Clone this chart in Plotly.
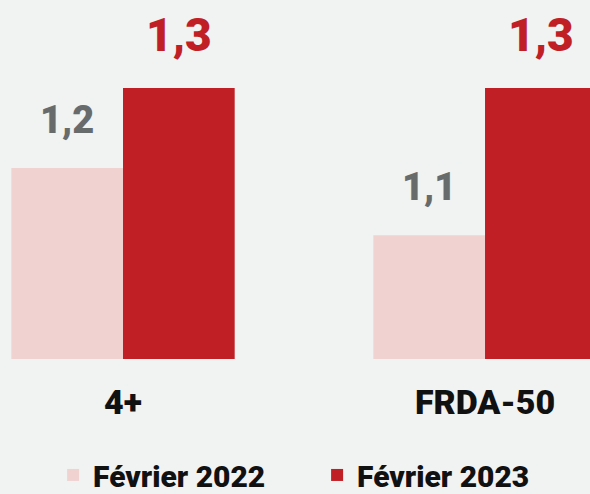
import plotly.graph_objects as go

categories = ["4+", "FRDA-50"]
series_names = ["Février 2022", "Février 2023"]
values_2022 = [1.2, 1.116]
values_2023 = [1.3, 1.3]
colors = ["#f0d3d1", "#c11f26"]
label_colors = ["#676b6c", "#c11f26"]
label_sizes = [38, 46]

FONT = "Roboto"

fig = go.Figure()
for name, vals, col in zip(series_names, [values_2022, values_2023], colors):
    fig.add_trace(go.Bar(x=categories, y=vals, name=name, marker=dict(color=col, line=dict(width=0))))

offsets = [-56, 56]
for vals, off, lc, ls in zip([values_2022, values_2023], offsets, label_colors, label_sizes):
    for c, v in zip(categories, vals):
        fig.add_annotation(x=c, y=v, xref="x", yref="y", text=f"{v:.1f}".replace(".", ","),
                           showarrow=False, xshift=off, yanchor="bottom", yshift=24,
                           font=dict(family=FONT, size=ls, color=lc, weight=900))

fig.update_layout(
    width=590, height=494,
    margin=dict(l=0, r=0, t=0, b=135, autoexpand=False),
    paper_bgcolor="#f1f2f2", plot_bgcolor="#f1f2f2",
    barmode="group", bargap=0.383, bargroupgap=0,
    showlegend=True,
    legend=dict(orientation="h", x=0.09, xanchor="left", y=-0.323, yanchor="middle",
                font=dict(family=FONT, size=30, color="#111111", weight=900),
                entrywidth=219, entrywidthmode="pixels", bgcolor="rgba(0,0,0,0)",
                itemclick=False, tracegroupgap=0),
    xaxis=dict(range=[-0.3398, 1.290], showgrid=False, zeroline=False, showline=False,
               ticks="outside", ticklen=13, tickcolor="rgba(0,0,0,0)",
               tickfont=dict(family=FONT, size=34, color="#111111", weight=900), fixedrange=True),
    yaxis=dict(range=[0.9613, 1.41], visible=False, fixedrange=True),
)

fig.write_html("out.html", config={"displayModeBar": False},
               post_script="document.body.style.margin='0';document.body.style.overflow='hidden';")
